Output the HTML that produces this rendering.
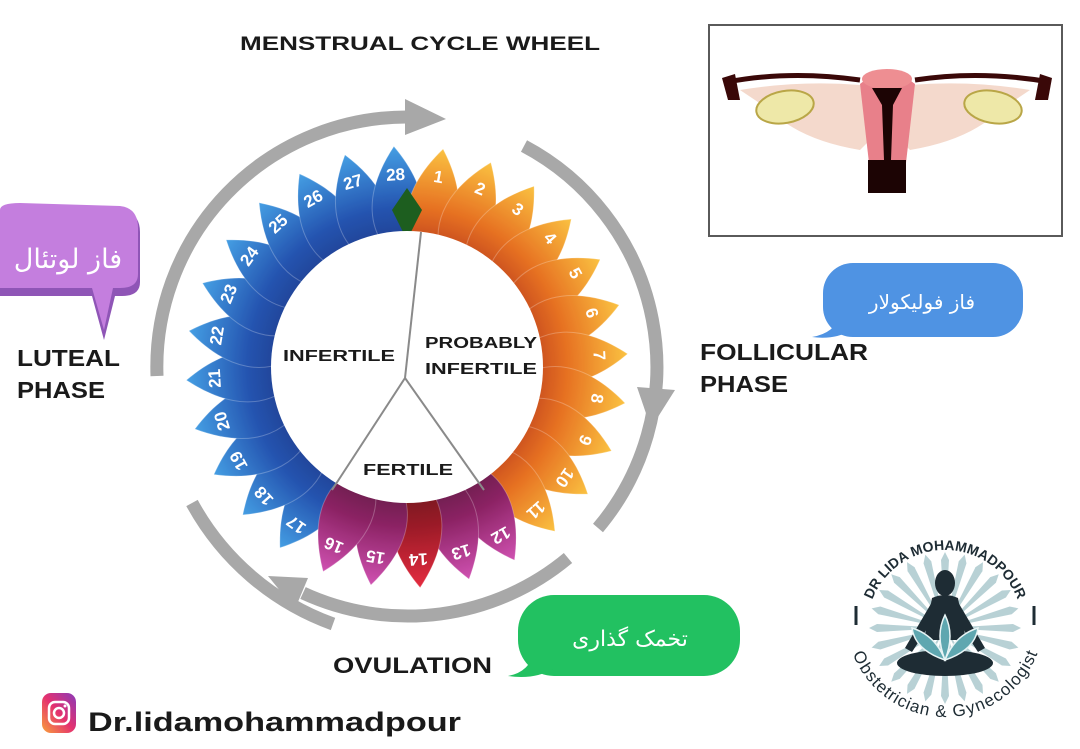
<!DOCTYPE html>
<html><head><meta charset="utf-8"><style>
html,body{margin:0;padding:0;background:#fff;}
svg{display:block;}
.lbl{font-family:"Liberation Sans",sans-serif;font-weight:bold;fill:#1a1a1a;}
.num{font-family:"Liberation Sans",sans-serif;font-weight:bold;fill:#fff;font-size:17px;}
.fa{font-family:"DejaVu Sans",sans-serif;fill:#fff;}
</style></head><body>
<svg width="1080" height="749" viewBox="0 0 1080 749" xmlns="http://www.w3.org/2000/svg">
<defs>
<radialGradient id="gB" gradientUnits="userSpaceOnUse" cx="407" cy="367" r="222"><stop offset="0.5" stop-color="#08247a"/><stop offset="0.72" stop-color="#0d42a8"/><stop offset="1" stop-color="#3296e2"/></radialGradient>
<radialGradient id="gO" gradientUnits="userSpaceOnUse" cx="407" cy="367" r="222"><stop offset="0.5" stop-color="#b02404"/><stop offset="0.72" stop-color="#e4620a"/><stop offset="1" stop-color="#fbbd2e"/></radialGradient>
<radialGradient id="gM" gradientUnits="userSpaceOnUse" cx="407" cy="367" r="222"><stop offset="0.5" stop-color="#4a032c"/><stop offset="0.72" stop-color="#800b54"/><stop offset="1" stop-color="#cc40ab"/></radialGradient>
<radialGradient id="gR" gradientUnits="userSpaceOnUse" cx="407" cy="367" r="222"><stop offset="0.5" stop-color="#560005"/><stop offset="0.72" stop-color="#900210"/><stop offset="1" stop-color="#e4162c"/></radialGradient>
<linearGradient id="ig" x1="0" y1="1" x2="1" y2="0"><stop offset="0" stop-color="#f9a13b"/><stop offset="0.5" stop-color="#e4316f"/><stop offset="1" stop-color="#8a3ab9"/></linearGradient>
<path id="pt" d="M407,262 C442,232 440,190 407,146 C374,190 372,232 407,262 Z"/>
<path id="ray" d="M945,628 L941,560 L945,552 L949,560 Z"/>
<path id="ctop" d="M867,628 A78,78 0 0 1 1023,628"/>
<path id="cbot" d="M858,618 A87,87 0 0 0 1032,618"/>
</defs>

<text x="240" y="50" class="lbl" font-size="19" fill="#2b2b2b" textLength="360" lengthAdjust="spacingAndGlyphs">MENSTRUAL CYCLE WHEEL</text>

<g fill="none" stroke="#a8a8a8" stroke-width="13">
<path d="M157,376 A250,250 0 0 1 407,117"/>
<path d="M524,146 A250,250 0 0 1 598,528"/>
<path d="M568,558 A250,250 0 0 1 303,593"/>
<path d="M333,624 A262,262 0 0 1 192,503"/>
</g>
<g fill="#a8a8a8">
<polygon points="405,99 405,135 446,119"/>
<polygon points="675,390 637,387 651,428"/>
<polygon points="295,609 308,578 268,576"/>
</g>

<g opacity="0.9" stroke="#ffffff" stroke-opacity="0.25" stroke-width="1">
<use href="#pt" fill="url(#gB)" transform="rotate(215.1 407 367)"/>
<use href="#pt" fill="url(#gB)" transform="rotate(228 407 367)"/>
<use href="#pt" fill="url(#gB)" transform="rotate(240.9 407 367)"/>
<use href="#pt" fill="url(#gB)" transform="rotate(253.7 407 367)"/>
<use href="#pt" fill="url(#gB)" transform="rotate(266.6 407 367)"/>
<use href="#pt" fill="url(#gB)" transform="rotate(279.4 407 367)"/>
<use href="#pt" fill="url(#gB)" transform="rotate(292.3 407 367)"/>
<use href="#pt" fill="url(#gB)" transform="rotate(305.1 407 367)"/>
<use href="#pt" fill="url(#gB)" transform="rotate(318 407 367)"/>
<use href="#pt" fill="url(#gB)" transform="rotate(330.9 407 367)"/>
<use href="#pt" fill="url(#gB)" transform="rotate(343.7 407 367)"/>
<use href="#pt" fill="url(#gB)" transform="rotate(356.6 407 367)"/>
<use href="#pt" fill="url(#gO)" transform="rotate(9.4 407 367)"/>
<use href="#pt" fill="url(#gO)" transform="rotate(22.3 407 367)"/>
<use href="#pt" fill="url(#gO)" transform="rotate(35.1 407 367)"/>
<use href="#pt" fill="url(#gO)" transform="rotate(48 407 367)"/>
<use href="#pt" fill="url(#gO)" transform="rotate(60.9 407 367)"/>
<use href="#pt" fill="url(#gO)" transform="rotate(73.7 407 367)"/>
<use href="#pt" fill="url(#gO)" transform="rotate(86.6 407 367)"/>
<use href="#pt" fill="url(#gO)" transform="rotate(99.4 407 367)"/>
<use href="#pt" fill="url(#gO)" transform="rotate(112.3 407 367)"/>
<use href="#pt" fill="url(#gO)" transform="rotate(125.1 407 367)"/>
<use href="#pt" fill="url(#gO)" transform="rotate(138 407 367)"/>
<use href="#pt" fill="url(#gM)" transform="rotate(150.9 407 367)"/>
<use href="#pt" fill="url(#gM)" transform="rotate(163.7 407 367)"/>
<use href="#pt" fill="url(#gR)" transform="rotate(176.6 407 367)"/>
<use href="#pt" fill="url(#gM)" transform="rotate(189.4 407 367)"/>
<use href="#pt" fill="url(#gM)" transform="rotate(202.3 407 367)"/>
</g>
<path d="M407,240 L392,210 L407,188 L422,210 Z" fill="#1d5e1f"/>

<circle cx="407" cy="367" r="136" fill="#fff"/>
<g stroke="#8a8a8a" stroke-width="2" fill="none">
<line x1="421" y1="232" x2="405" y2="378"/>
<line x1="405" y1="378" x2="332" y2="490"/>
<line x1="405" y1="378" x2="484" y2="490"/>
</g>
<text x="283" y="361" class="lbl" font-size="16" textLength="112" lengthAdjust="spacingAndGlyphs">INFERTILE</text>
<text x="425" y="348" class="lbl" font-size="16" textLength="112" lengthAdjust="spacingAndGlyphs">PROBABLY</text>
<text x="425" y="374" class="lbl" font-size="16" textLength="112" lengthAdjust="spacingAndGlyphs">INFERTILE</text>
<text x="363" y="475" class="lbl" font-size="16" textLength="90" lengthAdjust="spacingAndGlyphs">FERTILE</text>

<g class="num" text-anchor="middle">
<text x="407" y="180" transform="rotate(9.4 407 367)">1</text>
<text x="407" y="180" transform="rotate(22.3 407 367)">2</text>
<text x="407" y="180" transform="rotate(35.1 407 367)">3</text>
<text x="407" y="180" transform="rotate(48 407 367)">4</text>
<text x="407" y="180" transform="rotate(60.9 407 367)">5</text>
<text x="407" y="180" transform="rotate(73.7 407 367)">6</text>
<text x="407" y="180" transform="rotate(86.6 407 367)">7</text>
<text x="407" y="180" transform="rotate(99.4 407 367)">8</text>
<text x="407" y="180" transform="rotate(112.3 407 367)">9</text>
<text x="407" y="180" transform="rotate(125.1 407 367)">10</text>
<text x="407" y="180" transform="rotate(138 407 367)">11</text>
<text x="407" y="180" transform="rotate(150.9 407 367)">12</text>
<text x="407" y="180" transform="rotate(163.7 407 367)">13</text>
<text x="407" y="180" transform="rotate(176.6 407 367)">14</text>
<text x="407" y="180" transform="rotate(189.4 407 367)">15</text>
<text x="407" y="180" transform="rotate(202.3 407 367)">16</text>
<text x="407" y="180" transform="rotate(215.1 407 367)">17</text>
<text x="407" y="180" transform="rotate(228 407 367)">18</text>
<text x="407" y="180" transform="rotate(240.9 407 367)">19</text>
<text x="407" y="180" transform="rotate(253.7 407 367)">20</text>
<text x="407" y="180" transform="rotate(266.6 407 367)">21</text>
<text x="407" y="180" transform="rotate(279.4 407 367)">22</text>
<text x="407" y="180" transform="rotate(292.3 407 367)">23</text>
<text x="407" y="180" transform="rotate(305.1 407 367)">24</text>
<text x="407" y="180" transform="rotate(318 407 367)">25</text>
<text x="407" y="180" transform="rotate(330.9 407 367)">26</text>
<text x="407" y="180" transform="rotate(343.7 407 367)">27</text>
<text x="407" y="180" transform="rotate(356.6 407 367)">28</text>
</g>

<text x="17" y="366" class="lbl" font-size="23" textLength="103" lengthAdjust="spacingAndGlyphs">LUTEAL</text>
<text x="17" y="398" class="lbl" font-size="23" textLength="88" lengthAdjust="spacingAndGlyphs">PHASE</text>
<text x="700" y="360" class="lbl" font-size="23" textLength="168" lengthAdjust="spacingAndGlyphs">FOLLICULAR</text>
<text x="700" y="392" class="lbl" font-size="23" textLength="88" lengthAdjust="spacingAndGlyphs">PHASE</text>
<text x="333" y="673" class="lbl" font-size="22" textLength="159" lengthAdjust="spacingAndGlyphs">OVULATION</text>

<path d="M0,214 Q0,207 20,207 L120,210 Q140,212 140,232 L140,282 Q140,296 122,296 L115,296 L104,340 L92,296 L0,296 Z" fill="#8f55b6"/>
<path d="M0,210 Q0,203 20,203 L120,206 Q138,208 138,228 L138,274 Q138,288 120,288 L113,288 L104,330 L92,288 L0,288 Z" fill="#c47ede"/>
<text x="68" y="268" class="fa" font-size="27" text-anchor="middle">فاز لوتئال</text>

<rect x="823" y="263" width="200" height="74" rx="30" fill="#4f93e3"/>
<path d="M840,315 Q835,333 812,337 Q835,340 852,330 Z" fill="#4f93e3"/>
<text x="922" y="309" class="fa" font-size="20" text-anchor="middle">فاز فولیکولار</text>

<rect x="518" y="595" width="222" height="81" rx="36" fill="#22c161"/>
<path d="M535,650 Q530,672 508,676 Q535,680 555,668 Z" fill="#22c161"/>
<text x="630" y="646" class="fa" font-size="22" text-anchor="middle">تخمک گذاری</text>

<rect x="709" y="25" width="353" height="211" fill="#fff" stroke="#5a5a5a" stroke-width="2"/>
<path d="M740,90 Q800,80 860,85 L880,130 L860,150 Q800,140 770,110 Z" fill="#f4d9cc"/>
<path d="M1030,90 Q970,80 910,85 L890,130 L910,150 Q970,140 1000,110 Z" fill="#f4d9cc"/>
<path d="M727,82 Q790,70 860,80" stroke="#3a0808" stroke-width="5" fill="none"/>
<path d="M1050,82 Q980,70 915,80" stroke="#3a0808" stroke-width="5" fill="none"/>
<path d="M722,78 L735,74 L740,100 L728,100 Z" fill="#3a0808"/>
<path d="M1052,78 L1040,74 L1035,100 L1048,100 Z" fill="#3a0808"/>
<ellipse cx="785" cy="107" rx="29" ry="16" fill="#eee8a8" stroke="#b9a647" stroke-width="2" transform="rotate(-10 785 107)"/>
<ellipse cx="993" cy="107" rx="29" ry="16" fill="#eee8a8" stroke="#b9a647" stroke-width="2" transform="rotate(10 993 107)"/>
<path d="M860,84 Q887,62 915,84 L906,163 L869,163 Z" fill="#e8808a"/>
<ellipse cx="887" cy="79" rx="25" ry="10" fill="#ee8e92"/>
<path d="M872,88 L902,88 L893,105 L891,160 L884,160 L882,105 Z" fill="#1c0404"/>
<rect x="868" y="160" width="38" height="33" fill="#1c0404"/>

<g fill="#4f8e98" opacity="0.4">
<use href="#ray" transform="rotate(0 945 628)"/><use href="#ray" transform="rotate(15 945 628)"/><use href="#ray" transform="rotate(30 945 628)"/><use href="#ray" transform="rotate(45 945 628)"/><use href="#ray" transform="rotate(60 945 628)"/><use href="#ray" transform="rotate(75 945 628)"/><use href="#ray" transform="rotate(90 945 628)"/><use href="#ray" transform="rotate(105 945 628)"/><use href="#ray" transform="rotate(120 945 628)"/><use href="#ray" transform="rotate(135 945 628)"/><use href="#ray" transform="rotate(150 945 628)"/><use href="#ray" transform="rotate(165 945 628)"/><use href="#ray" transform="rotate(180 945 628)"/><use href="#ray" transform="rotate(195 945 628)"/><use href="#ray" transform="rotate(210 945 628)"/><use href="#ray" transform="rotate(225 945 628)"/><use href="#ray" transform="rotate(240 945 628)"/><use href="#ray" transform="rotate(255 945 628)"/><use href="#ray" transform="rotate(270 945 628)"/><use href="#ray" transform="rotate(285 945 628)"/><use href="#ray" transform="rotate(300 945 628)"/><use href="#ray" transform="rotate(315 945 628)"/><use href="#ray" transform="rotate(330 945 628)"/><use href="#ray" transform="rotate(345 945 628)"/>
</g>
<g fill="#1e2c34">
<ellipse cx="945" cy="583" rx="10" ry="13"/>
<path d="M932,598 Q945,592 958,598 L966,640 L924,640 Z"/>
<ellipse cx="945" cy="663" rx="48" ry="13"/>
<path d="M932,602 L905,648 L912,652 L936,615 Z"/><path d="M958,602 L985,648 L978,652 L954,615 Z"/>
</g>
<path d="M945,615 Q955,635 945,660 Q935,635 945,615 Z M945,660 Q915,650 912,628 Q935,635 945,660 Z M945,660 Q975,650 978,628 Q955,635 945,660 Z" fill="#5fa7b0" stroke="#e8f4f5" stroke-width="1.5"/>
<text font-family="Liberation Sans,sans-serif" font-size="14" font-weight="bold" fill="#1e2c34"><textPath href="#ctop" startOffset="50%" text-anchor="middle">DR LIDA MOHAMMADPOUR</textPath></text>
<text font-family="Liberation Sans,sans-serif" font-size="17" fill="#1e2c34"><textPath href="#cbot" startOffset="50%" text-anchor="middle" dominant-baseline="hanging">Obstetrician &amp; Gynecologist</textPath></text>
<line x1="856" y1="606" x2="856" y2="625" stroke="#1e2c34" stroke-width="3"/>
<line x1="1034" y1="606" x2="1034" y2="625" stroke="#1e2c34" stroke-width="3"/>

<rect x="42" y="693" width="34" height="40" rx="9" fill="url(#ig)"/>
<rect x="49" y="702" width="20" height="22" rx="6" fill="none" stroke="#fff" stroke-width="2.5"/>
<circle cx="59" cy="713" r="5" fill="none" stroke="#fff" stroke-width="2.5"/>
<circle cx="65" cy="706" r="1.5" fill="#fff"/>
<text x="88" y="731" class="lbl" font-size="27" fill="#111" textLength="373" lengthAdjust="spacingAndGlyphs">Dr.lidamohammadpour</text>
</svg>
</body></html>
